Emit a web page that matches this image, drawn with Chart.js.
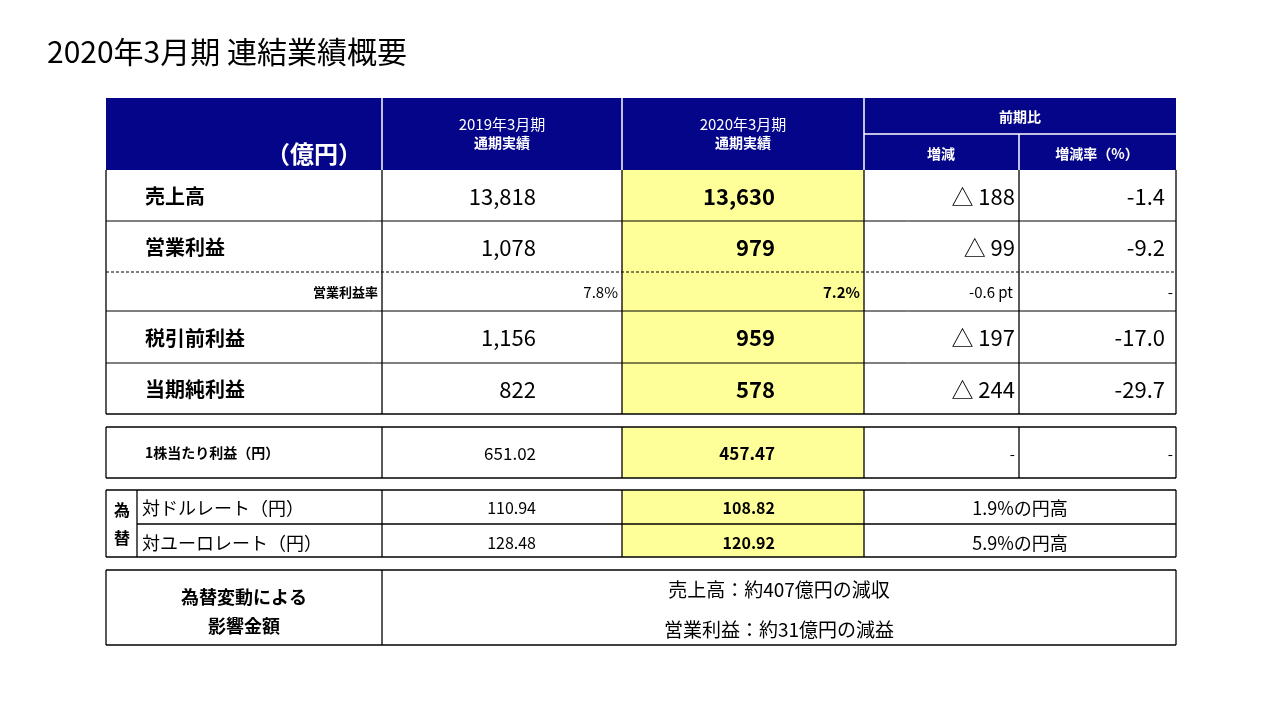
<!DOCTYPE html>
<html><head><meta charset="utf-8">
<script src="https://cdn.jsdelivr.net/npm/chart.js@4/dist/chart.umd.min.js"></script>
<style>html,body{margin:0;background:#fff}#c{display:block}</style>
</head><body>
<div style="width:1281px;height:720px"><canvas id="c"></canvas></div>
<script>
// 表のデータ
const title = "2020年3月期 連結業績概要";
const rowLabels = ["売上高", "営業利益", "営業利益率", "税引前利益", "当期純利益"];
const fy2019 = ["13,818", "1,078", "7.8%", "1,156", "822"];
const fy2020 = ["13,630", "979", "7.2%", "959", "578"];
const changes = ["△ 188", "△ 99", "-0.6 pt", "△ 197", "△ 244"];
const changeRates = ["-1.4", "-9.2", "-", "-17.0", "-29.7"];
const epsRow = ["1株当たり利益（円）", "651.02", "457.47", "-", "-"];
const fxLabels = ["対ドルレート（円）", "対ユーロレート（円）"];
const fx2019 = ["110.94", "128.48"];
const fx2020 = ["108.82", "120.92"];
const fxNotes = ["1.9%の円高", "5.9%の円高"];
const impactLines = ["売上高：約407億円の減収", "営業利益：約31億円の減益"];

const NAVY = "#05058a", YEL = "#ffff99";
const F = '"Noto Sans CJK JP", "Noto Sans", sans-serif';
const colX = [106, 382, 622, 864, 1019, 1176];
const rowY = [170, 221, 272, 311, 363, 414];

const tablePlugin = {
  id: "table",
  afterDraw(chart) {
    const ctx = chart.ctx, sx = chart.scales.x, sy = chart.scales.y;
    const X = v => sx.getPixelForValue(v), Y = v => sy.getPixelForValue(v);
    const rect = (x0, y0, x1, y1, fill) => { ctx.fillStyle = fill; ctx.fillRect(X(x0), Y(y0), X(x1) - X(x0), Y(y1) - Y(y0)); };
    const line = (x0, y0, x1, y1, col, w, dash) => {
      ctx.save(); ctx.strokeStyle = col || "#000"; ctx.lineWidth = w || 1.3; ctx.setLineDash(dash || []);
      ctx.beginPath(); ctx.moveTo(X(x0), Y(y0)); ctx.lineTo(X(x1), Y(y1)); ctx.stroke(); ctx.restore();
    };
    const box = (x0, y0, x1, y1) => { line(x0, y0, x1, y0); line(x0, y1, x1, y1); line(x0, y0, x0, y1); line(x1, y0, x1, y1); };
    const text = (s, x, y, size, align, col, bold) => {
      ctx.font = (bold ? "bold " : "") + size + "px " + F; ctx.fillStyle = col || "#000";
      ctx.textAlign = align || "left"; ctx.textBaseline = "middle"; ctx.fillText(s, X(x), Y(y));
    };

    text(title, 47, 52, 30, "left", "#000");

    // ヘッダー
    rect(106, 98, 1176, 170, NAVY);
    line(382, 98, 382, 170, "#fff", 1.5); line(622, 98, 622, 170, "#fff", 1.5);
    line(864, 98, 864, 170, "#fff", 1.5); line(864, 134, 1176, 134, "#fff", 1.5);
    line(1019, 134, 1019, 170, "#fff", 1.5);
    text("2019年3月期", 502, 124, 15, "center", "#fff");
    text("通期実績", 502, 143, 14, "center", "#fff", true);
    text("2020年3月期", 743, 124, 15, "center", "#fff");
    text("通期実績", 743, 143, 14, "center", "#fff", true);
    text("前期比", 1020, 117, 14, "center", "#fff", true);
    text("増減", 941, 154, 14, "center", "#fff", true);
    text("増減率（%）", 1097, 154, 14, "center", "#fff", true);
    text("（億円）", 362, 154, 24, "right", "#fff", true);

    // 本体
    rect(622, 170, 864, 414, YEL);
    rowLabels.forEach((lab, i) => {
      const y0 = rowY[i], y1 = rowY[i + 1], ym = (y0 + y1) / 2 + 1;
      if (i === 2) {
        text(lab, 378, ym, 13, "right", "#000", true);
        text(fy2019[i], 618, ym, 15, "right");
        text(fy2020[i], 860, ym, 15, "right", "#000", true);
        text(changes[i], 1013, ym, 15, "right");
        text(changeRates[i], 1173, ym, 15, "right");
      } else {
        text(lab, 145, ym, 20, "left", "#000", true);
        text(fy2019[i], 536, ym, 22, "right");
        text(fy2020[i], 775, ym, 22, "right", "#000", true);
        text(changes[i], 1015, ym, 22, "right");
        text(changeRates[i], 1165, ym, 22, "right");
      }
      if (i < rowLabels.length - 1) line(106, y1, 1176, y1, "#000", 1, i === 1 ? [3, 2] : []);
    });
    colX.forEach(x => line(x, 170, x, 414));
    line(106, 414, 1176, 414, "#000", 1.6);

    // 1株当たり利益
    rect(622, 427, 864, 478, YEL);
    box(106, 427, 1176, 478);
    colX.slice(1, 5).forEach(x => line(x, 427, x, 478));
    text(epsRow[0], 145, 453, 14, "left", "#000", true);
    text(epsRow[1], 536, 454, 17, "right");
    text(epsRow[2], 775, 454, 17, "right", "#000", true);
    text(epsRow[3], 1015, 454, 15, "right");
    text(epsRow[4], 1173, 454, 15, "right");

    // 為替
    rect(622, 490, 864, 557, YEL);
    box(106, 490, 1176, 557);
    line(137, 490, 137, 557); line(382, 490, 382, 557); line(622, 490, 622, 557); line(864, 490, 864, 557);
    line(137, 524, 1176, 524);
    text("為", 122, 510, 16, "center", "#000", true);
    text("替", 122, 538, 16, "center", "#000", true);
    fxLabels.forEach((lab, i) => {
      const ym = i === 0 ? 508 : 543;
      text(lab, 142, ym, 18, "left");
      text(fx2019[i], 536, ym, 16, "right");
      text(fx2020[i], 775, ym, 16, "right", "#000", true);
      text(fxNotes[i], 1020, ym, 18, "center");
    });

    // 為替変動による影響
    box(106, 570, 1176, 645);
    line(382, 570, 382, 645);
    text("為替変動による", 244, 597, 18, "center", "#000", true);
    text("影響金額", 244, 626, 18, "center", "#000", true);
    text(impactLines[0], 779, 590, 19, "center");
    text(impactLines[1], 779, 630, 19, "center");
  }
};

new Chart(document.getElementById("c"), {
  type: "scatter",
  data: { datasets: [{ data: [] }] },
  options: {
    responsive: true, maintainAspectRatio: false, animation: false,
    layout: { padding: 0 },
    plugins: { legend: { display: false }, tooltip: { enabled: false } },
    scales: {
      x: { type: "linear", min: 0, max: 1281, display: false },
      y: { type: "linear", min: 0, max: 720, reverse: true, display: false }
    }
  },
  plugins: [tablePlugin]
});
</script>
</body></html>
